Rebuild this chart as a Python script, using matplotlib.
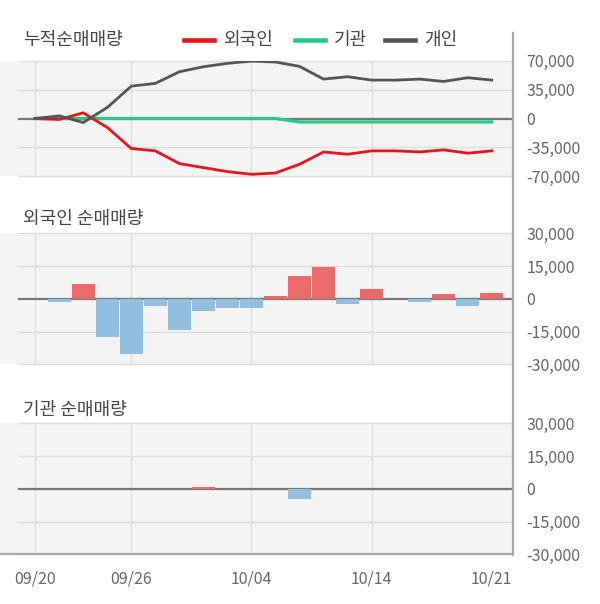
import matplotlib
matplotlib.use("Agg")
import matplotlib.pyplot as plt
from matplotlib.lines import Line2D

plt.rcParams['font.family'] = ['Noto Sans CJK KR', 'DejaVu Sans']

# ---------------- data ----------------
dates = ['09/20', '09/23', '09/24', '09/25', '09/26', '09/27', '09/30', '10/01', '10/02', '10/04',
         '10/07', '10/08', '10/10', '10/11', '10/14', '10/15', '10/16', '10/17', '10/18', '10/21']
tick_dates = ['09/20', '09/26', '10/04', '10/14', '10/21']
grid_dates = ['09/20', '09/26', '10/04', '10/14']

cum_foreign = [0, -1200, 6900, -10900, -36400, -39200, -54600, -59500, -64300, -67600,
               -66000, -55400, -40500, -43300, -39200, -39200, -40500, -38000, -42000, -39200]
cum_inst = [0, 0, 0, 0, 0, 0, 0, 0, 0, 0,
            0, -4200, -4200, -4200, -4200, -4200, -4200, -4200, -4200, -4200]
cum_indiv = [0, 3200, -4900, 13400, 39200, 42500, 56600, 62700, 66800, 69500,
             68400, 63100, 47700, 50600, 46500, 46500, 47700, 44900, 49400, 46500]

foreign_net = [0, -1500, 6600, -17600, -25500, -3100, -14500, -5400, -4400, -4000,
               1500, 10300, 14400, -2600, 4300, 0, -1500, 2000, -3100, 2500]
inst_net = [0, 0, 0, 0, 0, 0, 0, 600, 0, 0,
            0, -4800, 0, 0, 0, 0, 0, 0, 0, 0]

top_ticks = [70000, 35000, 0, -35000, -70000]
bar_ticks = [30000, 15000, 0, -15000, -30000]

# ---------------- style ----------------
W, H = 600, 604
BG = '#f4f4f4'
GRID = '#dedede'
ZERO = '#777777'
AXIS = '#aaaaaa'
TXT = '#666666'
TITLE = '#444444'
RED_LINE = '#e8141c'
GREEN_LINE = '#26c98c'
GRAY_LINE = '#555555'
RED_BAR = '#eb6b6b'
BLUE_BAR = '#92bee0'

fig = plt.figure(figsize=(W / 100, H / 100), dpi=100)

x = list(range(len(dates)))
XL, XR = -1.465, 19.87
GX0 = -0.70


def px_rect(top, bottom):
    return [0.0, 1 - bottom / H, 512.7 / W, (bottom - top) / H]


def setup(ax, ticks):
    ax.set_facecolor(BG)
    ax.set_xlim(XL, XR)
    ax.set_ylim(ticks[-1], ticks[0])
    for s in ax.spines.values():
        s.set_visible(False)
    ax.yaxis.tick_right()
    ax.set_yticks(ticks)
    ax.set_yticklabels([f'{t:,}' for t in ticks])
    ax.tick_params(axis='y', length=0, pad=10, labelsize=11.5, labelcolor=TXT)
    ax.set_xticks([dates.index(d) for d in tick_dates])
    ax.tick_params(axis='x', length=0)
    ax.set_xticklabels([])
    for t in ticks:
        if t != 0:
            ax.hlines(t, GX0, XR, color=GRID, lw=1.0, clip_on=False, zorder=1)
    for d in grid_dates:
        ax.axvline(dates.index(d), color=GRID, lw=1.0, zorder=1)
    ax.hlines(0, GX0, XR, color=ZERO, lw=1.6, zorder=2)


# top panel: cumulative
ax1 = fig.add_axes(px_rect(60.7, 176.3))
setup(ax1, top_ticks)
ax1.plot(x, cum_foreign, color=RED_LINE, lw=2.0, zorder=4, solid_joinstyle='round')
ax1.plot(x, cum_inst, color=GREEN_LINE, lw=2.3, zorder=3, solid_joinstyle='round')
ax1.plot(x, cum_indiv, color=GRAY_LINE, lw=2.0, zorder=5, solid_joinstyle='round')

# middle panel: foreign
ax2 = fig.add_axes(px_rect(233.3, 364.3))
setup(ax2, bar_ticks)
ax2.bar(x, foreign_net, width=0.96,
        color=[RED_BAR if v > 0 else BLUE_BAR for v in foreign_net], zorder=3)

# bottom panel: institution
ax3 = fig.add_axes(px_rect(423.3, 554.3))
setup(ax3, bar_ticks)
ax3.bar(x, inst_net, width=0.96,
        color=[RED_BAR if v > 0 else BLUE_BAR for v in inst_net], zorder=3)
ax3.spines['bottom'].set_visible(True)
ax3.spines['bottom'].set_color(AXIS)
ax3.spines['bottom'].set_linewidth(1.6)
ax3.set_xticklabels(tick_dates)
ax3.tick_params(axis='x', pad=12, labelsize=11.5, labelcolor=TXT)

# right vertical axis line across all panels
fig.add_artist(Line2D([512.7 / W, 512.7 / W], [1 - 33 / H, 1 - 555 / H],
                      color=AXIS, lw=1.6, transform=fig.transFigure))

# titles
fig.text(23 / W, 1 - 40 / H, '누적순매매량', fontsize=13, color=TITLE, va='center', ha='left')
fig.text(23 / W, 1 - 219 / H, '외국인 순매매량', fontsize=13, color=TITLE, va='center', ha='left')
fig.text(23 / W, 1 - 410 / H, '기관 순매매량', fontsize=13, color=TITLE, va='center', ha='left')

# legend
legend_items = [('외국인', RED_LINE, 184), ('기관', GREEN_LINE, 295), ('개인', GRAY_LINE, 385)]
for label, col, x0 in legend_items:
    fig.add_artist(Line2D([x0 / W, (x0 + 30) / W], [1 - 40 / H, 1 - 40 / H],
                          color=col, lw=3.3, transform=fig.transFigure))
    fig.text((x0 + 39) / W, 1 - 40 / H, label, fontsize=13, color=TITLE, va='center', ha='left')

fig.savefig('out.png', dpi=100)
